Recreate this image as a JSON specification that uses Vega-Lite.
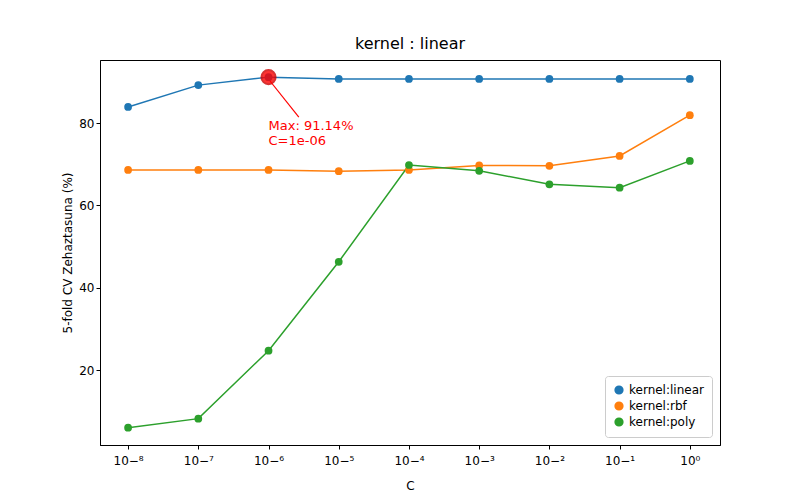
{
  "$schema": "https://vega.github.io/schema/vega-lite/v6.json",
  "width": 620,
  "height": 385,
  "autosize": "none",
  "padding": {"left": 100, "top": 60, "right": 80, "bottom": 55},
  "title": {"text": "kernel : linear", "fontSize": 16, "fontWeight": "normal", "font": "DejaVu Sans", "offset": 8},
  "data": {"values": [
    {"kernel": "kernel:linear", "C": 1e-8, "acc": 83.9},
    {"kernel": "kernel:linear", "C": 1e-7, "acc": 89.2},
    {"kernel": "kernel:linear", "C": 1e-6, "acc": 91.14},
    {"kernel": "kernel:linear", "C": 1e-5, "acc": 90.7},
    {"kernel": "kernel:linear", "C": 1e-4, "acc": 90.7},
    {"kernel": "kernel:linear", "C": 1e-3, "acc": 90.7},
    {"kernel": "kernel:linear", "C": 1e-2, "acc": 90.7},
    {"kernel": "kernel:linear", "C": 1e-1, "acc": 90.7},
    {"kernel": "kernel:linear", "C": 1, "acc": 90.7},
    {"kernel": "kernel:rbf", "C": 1e-8, "acc": 68.6},
    {"kernel": "kernel:rbf", "C": 1e-7, "acc": 68.6},
    {"kernel": "kernel:rbf", "C": 1e-6, "acc": 68.6},
    {"kernel": "kernel:rbf", "C": 1e-5, "acc": 68.3},
    {"kernel": "kernel:rbf", "C": 1e-4, "acc": 68.6},
    {"kernel": "kernel:rbf", "C": 1e-3, "acc": 69.7},
    {"kernel": "kernel:rbf", "C": 1e-2, "acc": 69.6},
    {"kernel": "kernel:rbf", "C": 1e-1, "acc": 72.0},
    {"kernel": "kernel:rbf", "C": 1, "acc": 81.9},
    {"kernel": "kernel:poly", "C": 1e-8, "acc": 6.0},
    {"kernel": "kernel:poly", "C": 1e-7, "acc": 8.2},
    {"kernel": "kernel:poly", "C": 1e-6, "acc": 24.7},
    {"kernel": "kernel:poly", "C": 1e-5, "acc": 46.3},
    {"kernel": "kernel:poly", "C": 1e-4, "acc": 69.8},
    {"kernel": "kernel:poly", "C": 1e-3, "acc": 68.4},
    {"kernel": "kernel:poly", "C": 1e-2, "acc": 65.1},
    {"kernel": "kernel:poly", "C": 1e-1, "acc": 64.3},
    {"kernel": "kernel:poly", "C": 1, "acc": 70.8}
  ]},
  "encoding": {
    "x": {"field": "C", "type": "quantitative",
      "scale": {"type": "log", "domain": [3.98e-9, 2.69], "nice": false, "zero": false},
      "axis": {"title": "C", "grid": false, "titlePadding": 14, "labelPadding": 6, "values": [1e-8, 1e-7, 1e-6, 1e-5, 1e-4, 1e-3, 1e-2, 1e-1, 1],
        "labelExpr": "'10' + replace(replace(replace(replace(replace(replace(replace(replace(replace(replace(format(round(log(datum.value)/LN10), 'd'), '-', '⁻'), '0', '⁰'), '1', '¹'), '2', '²'), '3', '³'), '4', '⁴'), '5', '⁵'), '6', '⁶'), '7', '⁷'), '8', '⁸')"}},
    "y": {"field": "acc", "type": "quantitative",
      "scale": {"domain": [1.8, 95.3], "nice": false, "zero": false},
      "axis": {"title": "5-fold CV Zehaztasuna (%)", "grid": false, "values": [20, 40, 60, 80]}}
  },
  "layer": [
    {
      "mark": {"type": "line", "point": {"size": 60, "filled": true, "opacity": 1}, "strokeWidth": 1.5},
      "encoding": {
        "color": {"field": "kernel", "type": "nominal",
          "sort": ["kernel:linear", "kernel:rbf", "kernel:poly"],
          "scale": {"domain": ["kernel:linear", "kernel:rbf", "kernel:poly"], "range": ["#1f77b4", "#ff7f0e", "#2ca02c"]},
          "legend": {"title": null, "orient": "bottom-right", "symbolType": "circle", "symbolSize": 60,
            "labelFontSize": 12, "strokeColor": "#cccccc", "fillColor": "white", "padding": 8, "cornerRadius": 3, "offset": 8}}
      }
    },
    {
      "data": {"values": [{"C": 1e-6, "acc": 91.14}]},
      "mark": {"type": "point", "shape": "circle", "size": 200, "filled": true, "color": "red", "opacity": 0.8, "stroke": "#cc0000", "strokeWidth": 2}
    },
    {
      "data": {"values": [{"C": 2.7e-6, "acc": 81.4, "C2": 1.05e-6, "acc2": 90.2}]},
      "mark": {"type": "rule", "color": "red", "strokeWidth": 1.2},
      "encoding": {"x2": {"field": "C2"}, "y2": {"field": "acc2"}}
    },
    {
      "data": {"values": [{"C": 1e-6, "acc": 80.8, "label": ["Max: 91.14%", "C=1e-06"]}]},
      "mark": {"type": "text", "align": "left", "baseline": "top", "color": "red", "fontSize": 13, "font": "DejaVu Sans", "lineHeight": 15},
      "encoding": {"text": {"field": "label"}}
    }
  ],
  "config": {
    "view": {"stroke": "black", "strokeWidth": 1},
    "font": "DejaVu Sans",
    "axis": {"labelFontSize": 12, "titleFontSize": 12, "titleFontWeight": "normal", "domainColor": "black", "tickColor": "black", "labelColor": "black", "titleColor": "black", "tickSize": 4}
  }
}
